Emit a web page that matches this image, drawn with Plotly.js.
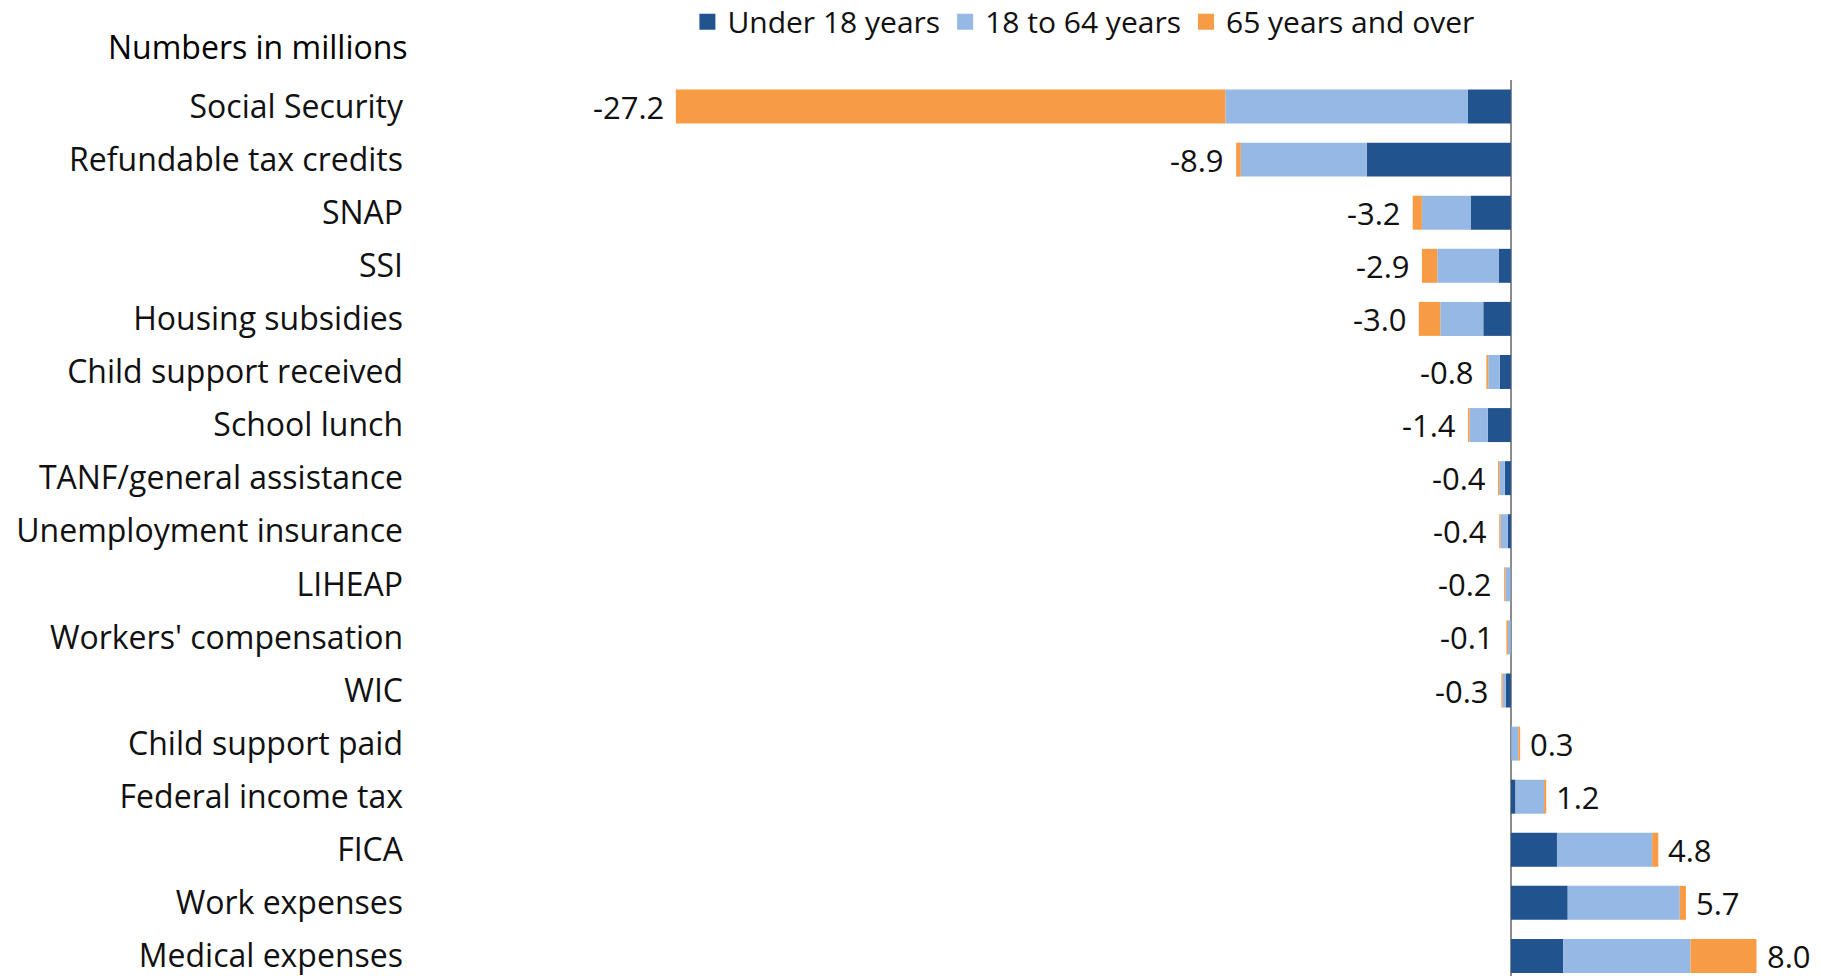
<!DOCTYPE html>
<html>
<head>
<meta charset="utf-8">
<script src="https://cdn.plot.ly/plotly-3.0.1.min.js"></script>
<style>
  html, body { margin: 0; padding: 0; background: #fff; }
  #chart { width: 1821px; height: 976px; }
</style>
</head>
<body>
<div id="chart"></div>
<script>
// ---- Data (millions of people) ----
const categories = [
  "Social Security", "Refundable tax credits", "SNAP", "SSI", "Housing subsidies",
  "Child support received", "School lunch", "TANF/general assistance",
  "Unemployment insurance", "LIHEAP", "Workers' compensation", "WIC",
  "Child support paid", "Federal income tax", "FICA", "Work expenses", "Medical expenses"
];
const under18 = [-1.4, -4.7, -1.3, -0.4, -0.9, -0.36, -0.75, -0.2, -0.1, -0.01, -0.005, -0.17,
                 0.01, 0.15, 1.5, 1.85, 1.7];
const age18to64 = [-7.9, -4.1, -1.6, -2.0, -1.4, -0.38, -0.6, -0.18, -0.24, -0.17, -0.09, -0.1,
                   0.23, 0.93, 3.1, 3.65, 4.15];
const age65plus = [-17.9, -0.15, -0.3, -0.5, -0.7, -0.06, -0.05, -0.04, -0.04, -0.04, -0.05, -0.04,
                   0.06, 0.07, 0.2, 0.2, 2.15];
const totalLabels = ["-27.2", "-8.9", "-3.2", "-2.9", "-3.0", "-0.8", "-1.4", "-0.4", "-0.4",
                     "-0.2", "-0.1", "-0.3", "0.3", "1.2", "4.8", "5.7", "8.0"];
const seriesNames = ["Under 18 years", "18 to 64 years", "65 years and over"];

// ---- Styling ----
const colors = ["#21548F", "#95B8E5", "#F89B45"];
const FONT = "Open Sans, sans-serif";

const seriesData = [under18, age18to64, age65plus];
const traces = [];
seriesData.forEach((vals, i) => {
  traces.push({
    type: "bar", orientation: "h", y: categories, x: vals,
    name: seriesNames[i], showlegend: false,
    marker: { color: colors[i], line: { width: 0 } },
    hoverinfo: "skip"
  });
});
// legend entries (large square markers)
seriesNames.forEach((n, i) => {
  traces.push({
    type: "scatter", mode: "markers", x: [null], y: [null], name: n,
    marker: { symbol: "square", size: 21, color: colors[i] },
    showlegend: true, hoverinfo: "skip"
  });
});

const annotations = categories.map((c, i) => {
  const tot = under18[i] + age18to64[i] + age65plus[i];
  const neg = tot < 0;
  return {
    x: tot, y: c, xref: "x", yref: "y", text: totalLabels[i], showarrow: false,
    xanchor: neg ? "right" : "left", xshift: neg ? -10 : 8,
    font: { family: FONT, size: 31, color: "#111" }
  };
});
annotations.push({
  xref: "paper", yref: "paper", x: 0.0, y: 1.0377, xanchor: "right", yanchor: "middle",
  text: "Numbers in millions", showarrow: false,
  font: { family: FONT, size: 32, color: "#000" }
});

const layout = {
  width: 1821, height: 976,
  margin: { l: 410, r: 0, t: 80.3, b: 0, pad: 0, autoexpand: false },
  paper_bgcolor: "#ffffff", plot_bgcolor: "#ffffff",
  barmode: "relative", bargap: 0.36,
  font: { family: FONT, color: "#111" },
  xaxis: {
    range: [-35.86, 10.10], showgrid: false, showticklabels: false, ticks: "",
    zeroline: true, zerolinecolor: "#8C8C8C", zerolinewidth: 2, showline: false, fixedrange: true
  },
  yaxis: {
    type: "category", range: [16.378, -0.5], showgrid: false, ticks: "", zeroline: false,
    showline: false, ticklabelstandoff: 6,
    tickfont: { family: FONT, size: 32, color: "#111" }, fixedrange: true
  },
  legend: {
    orientation: "h", x: 0.1966, xanchor: "left", y: 1.0650, yanchor: "middle",
    font: { family: FONT, size: 30, color: "#111" }, bgcolor: "rgba(0,0,0,0)",
    itemsizing: "trace"
  },
  annotations: annotations,
  showlegend: true
};

Plotly.newPlot("chart", traces, layout, { staticPlot: true, displayModeBar: false });
</script>
</body>
</html>
